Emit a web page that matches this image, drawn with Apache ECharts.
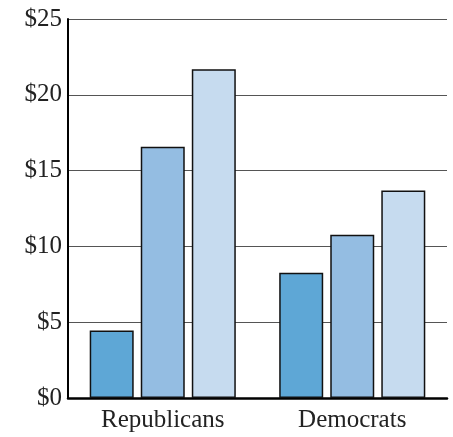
<!DOCTYPE html>
<html>
<head>
<meta charset="utf-8">
<script src="https://cdn.jsdelivr.net/npm/echarts@6/dist/echarts.min.js"></script>
<style>
html,body{margin:0;padding:0;background:#fff;}
#chart{width:453px;height:437px;}
</style>
</head>
<body>
<div id="chart"></div>
<script>
var categories = ['Republicans', 'Democrats'];
var seriesNames = ['Series 1', 'Series 2', 'Series 3'];
var series1 = [4.45, 8.27];
var series2 = [16.58, 10.77];
var series3 = [21.68, 13.68];
var yTicks = [0, 5, 10, 15, 20, 25];
var colors = ['#5ea7d6', '#94bde2', '#c6dbef'];

var chart = echarts.init(document.getElementById('chart'), null, {renderer: 'canvas'});
var font = '"Liberation Serif", "DejaVu Serif", serif';
var allSeries = [series1, series2, series3].map(function (d, i) {
  return {
    name: seriesNames[i],
    type: 'bar',
    data: d,
    barWidth: 44,
    barGap: '16%',
    itemStyle: {color: colors[i], borderColor: '#111', borderWidth: 1.5}
  };
});
chart.setOption({
  animation: false,
  grid: {left: 68, right: 6, top: 19, bottom: 39, containLabel: false},
  xAxis: {
    type: 'category',
    data: categories,
    axisLine: {lineStyle: {color: '#000', width: 2.5}},
    axisTick: {show: false},
    axisLabel: {fontFamily: font, fontSize: 25, color: '#222', margin: 10}
  },
  yAxis: {
    type: 'value',
    min: yTicks[0],
    max: yTicks[yTicks.length - 1],
    interval: 5,
    axisLine: {show: true, lineStyle: {color: '#000', width: 2}},
    axisTick: {show: false},
    splitLine: {lineStyle: {color: '#555', width: 1}},
    axisLabel: {fontFamily: font, fontSize: 25, color: '#222', margin: 6,
      formatter: function (v) { return '$' + v; }}
  },
  series: allSeries
});
</script>
</body>
</html>
